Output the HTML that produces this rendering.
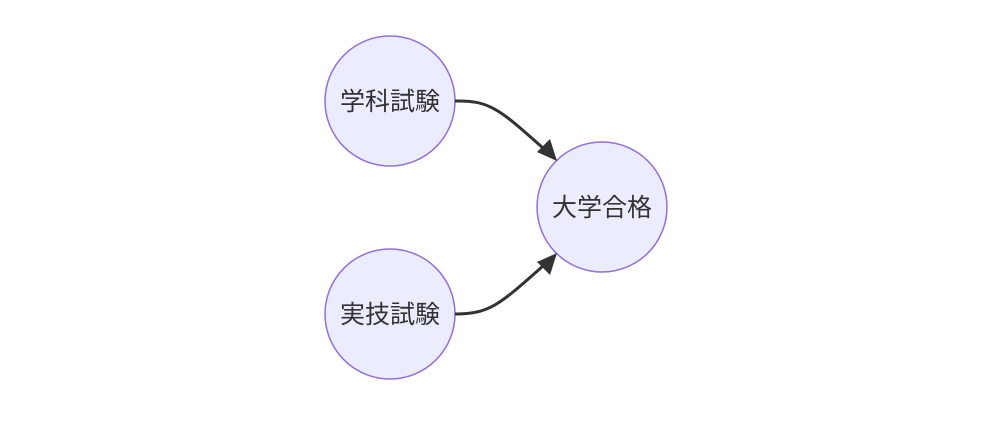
<!DOCTYPE html>
<html><head><meta charset="utf-8"><style>
html,body{margin:0;padding:0;background:#fff;width:987px;height:421px;overflow:hidden}
text{font-family:"Liberation Sans","Noto Sans CJK JP",sans-serif;font-size:25px;fill:#333}
</style></head><body>
<svg width="987" height="421" viewBox="0 0 987 421">
<g fill="#ECECFF" stroke="#9370DB" stroke-width="1.5">
<circle cx="390" cy="101" r="65"/>
<circle cx="390" cy="314" r="65"/>
<circle cx="602" cy="207" r="65"/>
</g>
<g fill="none" stroke="#333" stroke-width="3">
<path d="M455,101 C490,100 500,110 543,148"/>
<path d="M455,314 C490,314 500,304 543,266"/>
</g>
<g fill="#333">
<polygon points="557,161 537,152 550,139"/>
<polygon points="557,253 537,262 550,275"/>
</g>
<text x="390" y="110" text-anchor="middle">学科試験</text>
<text x="390" y="323" text-anchor="middle">実技試験</text>
<text x="602" y="216" text-anchor="middle">大学合格</text>
</svg>
</body></html>
